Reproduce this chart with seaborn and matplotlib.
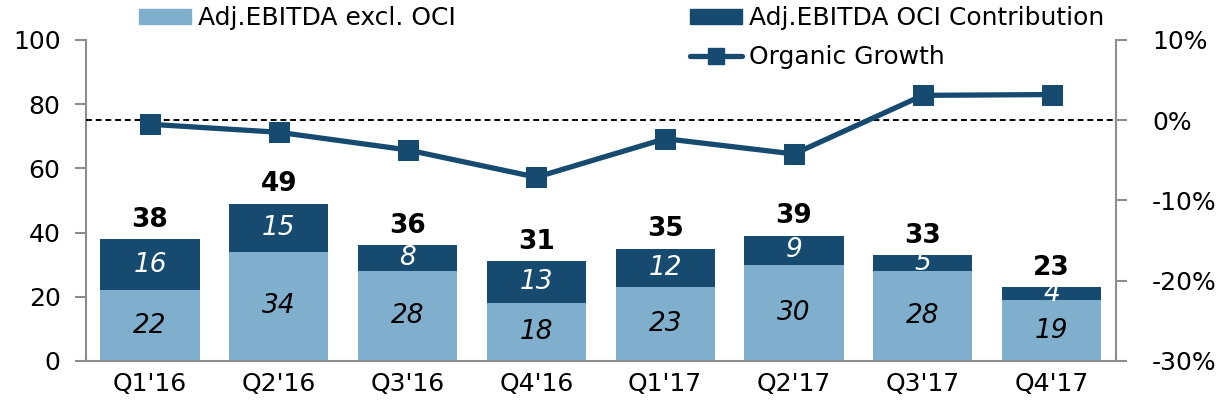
import numpy as np
import pandas as pd
import seaborn as sns
import matplotlib.pyplot as plt
from matplotlib.patches import Patch
from matplotlib.lines import Line2D
from matplotlib.ticker import FuncFormatter

quarters = ["Q1'16", "Q2'16", "Q3'16", "Q4'16", "Q1'17", "Q2'17", "Q3'17", "Q4'17"]
excl_oci = [22, 34, 28, 18, 23, 30, 28, 19]
oci_contrib = [16, 15, 8, 13, 12, 9, 5, 4]
totals = [38, 49, 36, 31, 35, 39, 33, 23]
organic_growth = [-0.5, -1.5, -3.7, -7.1, -2.3, -4.2, 3.1, 3.2]

light = "#80afcd"
dark = "#164b6f"
grey = "#8c8c8c"

df = pd.DataFrame({"quarter": quarters, "excl": excl_oci, "oci": oci_contrib,
                   "total": totals, "growth": organic_growth})

sns.set_style("white")
plt.rcParams["font.family"] = ["DejaVu Sans"]
plt.rcParams["text.color"] = "black"
plt.rcParams["axes.labelcolor"] = "black"

fig = plt.figure(figsize=(12.19, 4.08), dpi=100)
ax = fig.add_axes([0.0702, 0.1152, 0.8453, 0.7868])

# stacked bars: full total in dark, excl. OCI drawn on top in light
sns.barplot(data=df, x="quarter", y="total", color=dark, width=0.77,
            saturation=1, ax=ax)
sns.barplot(data=df, x="quarter", y="excl", color=light, width=0.77,
            saturation=1, ax=ax)
for p in ax.patches:
    p.set_edgecolor("none")

for i, (b, t, tot) in enumerate(zip(excl_oci, oci_contrib, totals)):
    ax.text(i, b / 2, str(b), ha="center", va="center", fontsize=19,
            style="italic", color="black")
    ax.text(i, b + t / 2, str(t), ha="center", va="center", fontsize=19,
            style="italic", color="white")
    ax.text(i, tot + 2, str(tot), ha="center", va="bottom", fontsize=19,
            fontweight="bold", color="black")

ax.set_ylim(0, 100)
ax.set_yticks([0, 20, 40, 60, 80, 100])
ax.set_xlim(-0.5, len(quarters) - 0.5)
ax.set_xlabel("")
ax.set_ylabel("")

ax2 = ax.twinx()
ax2.axhline(0, color="black", linestyle=(0, (3, 2)), linewidth=1.4)
sns.lineplot(x=np.arange(len(quarters)), y=df["growth"], color=dark,
             linewidth=3.8, marker="s", markersize=15, markeredgecolor=dark,
             ax=ax2)
ax2.set_ylim(-30, 10)
ax2.set_yticks([-30, -20, -10, 0, 10])
ax2.yaxis.set_major_formatter(FuncFormatter(lambda v, _: f"{v:.0f}%"))
ax2.set_xlim(-0.5, len(quarters) - 0.5)
ax2.set_ylabel("")

for a in (ax, ax2):
    for s in a.spines.values():
        s.set_visible(False)
    a.tick_params(axis="y", labelsize=18, colors=grey, labelcolor="black",
                  length=8, width=1.5, direction="out")
    a.tick_params(axis="x", labelsize=18, length=0, pad=8, labelcolor="black")
ax.tick_params(axis="y", pad=10)
ax2.tick_params(axis="y", pad=18)
ax.spines["left"].set_visible(True)
ax.spines["left"].set_color(grey)
ax.spines["left"].set_linewidth(1.5)
ax.spines["bottom"].set_visible(True)
ax.spines["bottom"].set_color(grey)
ax.spines["bottom"].set_linewidth(1.5)
ax2.spines["right"].set_visible(True)
ax2.spines["right"].set_color(grey)
ax2.spines["right"].set_linewidth(1.5)

leg_kw = dict(frameon=False, fontsize=18, handlelength=2.1, handleheight=0.55,
              handletextpad=0.25, labelspacing=0.6, borderaxespad=0,
              borderpad=0, labelcolor="black")
fig.legend(handles=[Patch(color=light, label="Adj.EBITDA excl. OCI")],
           loc="upper left", bbox_to_anchor=(0.114, 0.985), **leg_kw)
fig.legend(handles=[Patch(color=dark, label="Adj.EBITDA OCI Contribution"),
                    Line2D([], [], color=dark, linewidth=3.8, marker="s",
                           markersize=11, label="Organic Growth")],
           loc="upper left", bbox_to_anchor=(0.566, 0.985), **leg_kw)

fig.savefig("out.png", dpi=100)
